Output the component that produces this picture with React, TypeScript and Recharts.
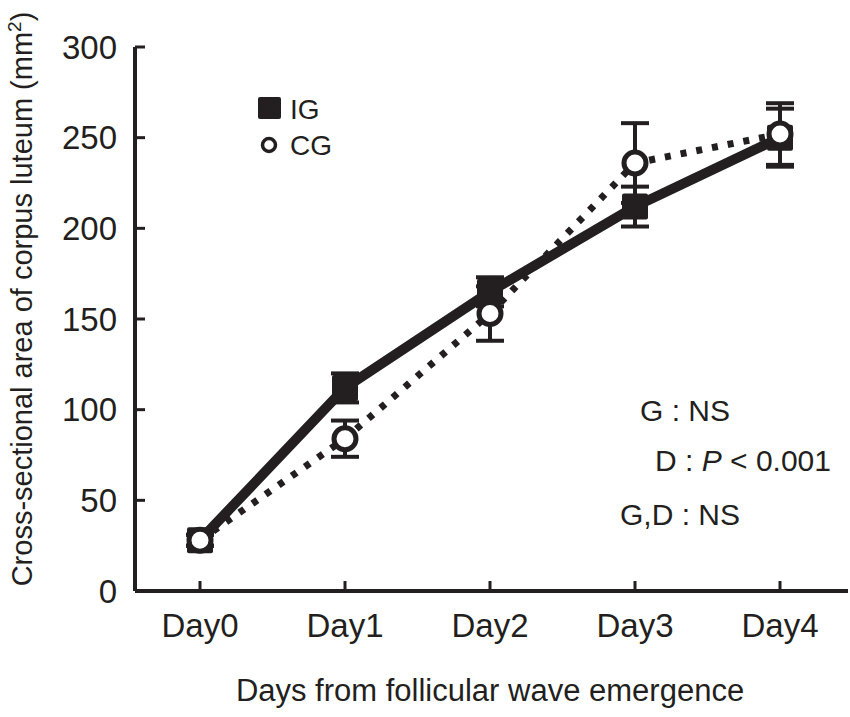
import * as React from 'react'
import {
    LineChart,
    Line,
    XAxis,
    YAxis,
    ErrorBar,
} from 'recharts'

const days = ['Day0', 'Day1', 'Day2', 'Day3', 'Day4']
const igMean = [28, 112, 165, 212, 250]
const igErr = [3, 8, 8, 11, 16]
const cgMean = [28, 84, 153, 236, 252]
const cgErr = [3, 10, 15, 22, 17]
const yTicks = [0, 50, 100, 150, 200, 250, 300]

const data = days.map((day, i) => ({
    day,
    ig: igMean[i],
    igErr: igErr[i],
    cg: cgMean[i],
    cgErr: cgErr[i],
}))

const INK = '#231f20'
const FONT = '"Liberation Sans", Arial, sans-serif'

const SquareDot = (props: any) => {
    const { cx, cy, index } = props
    const s = 26
    return <rect key={'sq' + index} x={cx - s / 2} y={cy - s / 2} width={s} height={s} rx={2} fill={INK} />
}

const CircleDot = (props: any) => {
    const { cx, cy, index } = props
    return <circle key={'ci' + index} cx={cx} cy={cy} r={11} fill="#fff" stroke={INK} strokeWidth={5} />
}

export default function App() {
    return (
        <div style={{ position: 'absolute', left: 0, top: 0, fontFamily: FONT }}>
            <LineChart
                width={850}
                height={717}
                data={data}
                margin={{ top: 47, right: 2, left: 75, bottom: 66 }}
            >
                <XAxis
                    dataKey="day"
                    padding={{ left: 65, right: 68 }}
                    axisLine={{ stroke: INK, strokeWidth: 4 }}
                    tickLine={{ stroke: INK, strokeWidth: 3 }}
                    tickSize={-10}
                    tickMargin={33}
                    height={60}
                    tick={{ fill: INK, fontSize: 33, fontFamily: FONT }}
                />
                <YAxis
                    domain={[0, 300]}
                    ticks={yTicks}
                    width={60}
                    axisLine={{ stroke: INK, strokeWidth: 4 }}
                    tickLine={{ stroke: INK, strokeWidth: 3 }}
                    tickSize={-10}
                    tickMargin={28}
                    tick={{ fill: INK, fontSize: 33, fontFamily: FONT }}
                />
                <Line
                    dataKey="ig"
                    stroke={INK}
                    strokeWidth={10}
                    dot={SquareDot}
                    activeDot={false}
                    isAnimationActive={false}
                >
                    <ErrorBar dataKey="igErr" width={14} strokeWidth={4} stroke={INK} />
                </Line>
                <Line
                    dataKey="cg"
                    stroke={INK}
                    strokeWidth={7}
                    strokeDasharray="6 10"
                    dot={CircleDot}
                    activeDot={false}
                    isAnimationActive={false}
                >
                    <ErrorBar dataKey="cgErr" width={14} strokeWidth={4} stroke={INK} />
                </Line>
                <g fontFamily={FONT}>
                    <rect x={258} y={97} width={23} height={22} rx={2} fill={INK} />
                    <text x={290} y={119} fontSize={28} fill={INK}>IG</text>
                    <circle cx={269} cy={145} r={6.5} fill="#fff" stroke={INK} strokeWidth={3.5} />
                    <text x={290} y={155} fontSize={28} fill={INK}>CG</text>
                </g>
                <text
                    transform="translate(32, 299) rotate(-90)"
                    textAnchor="middle"
                    fontSize={29}
                    fill={INK}
                    fontFamily={FONT}
                >
                    Cross-sectional area of corpus luteum (mm
                    <tspan dy={-11} fontSize={19}>2</tspan>
                    <tspan dy={11}>)</tspan>
                </text>
                <text x={490} y={701} textAnchor="middle" fontSize={31} fill={INK} fontFamily={FONT}>
                    Days from follicular wave emergence
                </text>
                <text x={640} y={421} fontSize={30} fill={INK} fontFamily={FONT}>G : NS</text>
                <text x={655} y={471} fontSize={30} fill={INK} fontFamily={FONT}>
                    D : <tspan fontStyle="italic">P</tspan> &lt; 0.001
                </text>
                <text x={620} y={525} fontSize={30} fill={INK} fontFamily={FONT}>G,D : NS</text>
            </LineChart>
        </div>
    )
}
